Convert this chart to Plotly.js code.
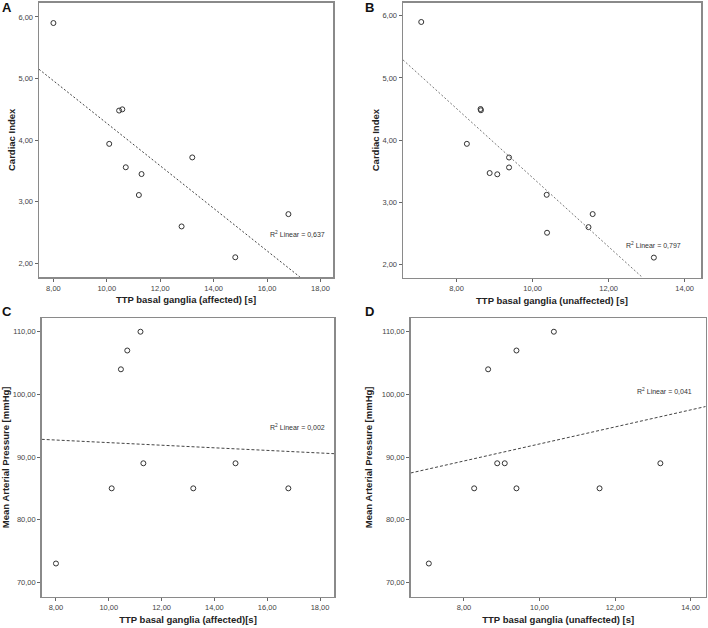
<!DOCTYPE html>
<html>
<head>
<meta charset="utf-8">
<script src="https://cdn.plot.ly/plotly-3.0.1.min.js"></script>
<style>html,body{margin:0;padding:0;background:#fff;}#chart{width:708px;height:628px;}</style>
</head>
<body>
<div id="chart"></div>
<script>
// Panel A: TTP affected vs Cardiac Index
const ttpAffA = [8.0, 10.46, 10.58, 10.09, 10.71, 11.30, 11.20, 13.2, 12.8, 14.81, 16.8];
const ciA     = [5.90, 4.48, 4.50, 3.94, 3.56, 3.45, 3.11, 3.72, 2.60, 2.10, 2.80];
const fitA_x = [7.46, 17.23];
const fitA_y = [5.15, 1.78];
const r2A = "0,637";

// Panel B: TTP unaffected vs Cardiac Index
const ttpUnaffB = [7.07, 8.63, 8.64, 8.27, 8.87, 9.07, 9.38, 9.38, 10.37, 10.38, 11.47, 11.58, 13.19];
const ciB       = [5.90, 4.50, 4.48, 3.94, 3.47, 3.45, 3.72, 3.56, 3.12, 2.51, 2.60, 2.81, 2.11];
const fitB_x = [6.59, 12.89];
const fitB_y = [5.29, 1.79];
const r2B = "0,797";

// Panel C: TTP affected vs MAP
const ttpAffC = [8.0, 10.11, 10.46, 10.70, 11.2, 11.31, 13.2, 14.8, 16.8];
const mapC    = [73, 85, 104, 107, 110, 89, 85, 89, 85];
const fitC_x = [7.46, 18.54];
const fitC_y = [92.82, 90.53];
const r2C = "0,002";

// Panel D: TTP unaffected vs MAP
const ttpUnaffD = [7.07, 8.27, 8.64, 8.88, 9.08, 9.39, 9.39, 10.38, 11.59, 13.2];
const mapD      = [73, 85, 104, 89, 89, 107, 85, 110, 85, 89];
const fitD_x = [6.59, 14.40];
const fitD_y = [87.45, 98.06];
const r2D = "0,041";

const xTicksAff = [8, 10, 12, 14, 16, 18];
const xTicksUnaff = [8, 10, 12, 14];
const yTicksCI = [2, 3, 4, 5, 6];
const yTicksMAP = [70, 80, 90, 100, 110];

const fmt = v => v.toFixed(2).replace('.', ',');

const W = 708, H = 628;
const dx = (a, b) => [a / W, b / W];
const dy = (top, bottom) => [1 - bottom / H, 1 - top / H];

const FONT = 'Liberation Sans, Arial, sans-serif';

function scatter(x, y, xa, ya) {
  return {x, y, xaxis: xa, yaxis: ya, type: 'scatter', mode: 'markers',
    marker: {symbol: 'circle-open', size: 5, color: '#333', line: {width: 1, color: '#333'}},
    showlegend: false, hoverinfo: 'x+y'};
}
function fit(x, y, xa, ya, color, dash) {
  return {x, y, xaxis: xa, yaxis: ya, type: 'scatter', mode: 'lines',
    line: {color, width: 1, dash}, showlegend: false, hoverinfo: 'skip'};
}

const data = [
  scatter(ttpAffA, ciA, 'x', 'y'), fit(fitA_x, fitA_y, 'x', 'y', '#444', '2px,2px'),
  scatter(ttpUnaffB, ciB, 'x2', 'y2'), fit(fitB_x, fitB_y, 'x2', 'y2', '#777', '2px,2px'),
  scatter(ttpAffC, mapC, 'x3', 'y3'), fit(fitC_x, fitC_y, 'x3', 'y3', '#444', '3px,2px'),
  scatter(ttpUnaffD, mapD, 'x4', 'y4'), fit(fitD_x, fitD_y, 'x4', 'y4', '#444', '3px,2px')
];

function axBase(domain, range, ticks, anchor) {
  return {domain, range, anchor, tickvals: ticks, ticktext: ticks.map(fmt),
    showline: true, mirror: true, linecolor: '#8a8a8a', linewidth: 1.5,
    ticks: 'outside', ticklen: 3, tickcolor: '#666', tickwidth: 1,
    showgrid: false, zeroline: false, automargin: false,
    tickfont: {size: 7.5, color: '#444', family: FONT}};
}
function xax(domain, range, ticks, title, anchor) {
  const a = axBase(domain, range, ticks, anchor);
  a.title = {text: title, standoff: 5, font: {size: 9.5, color: '#222', family: FONT, weight: 'bold'}};
  return a;
}
function yax(domain, range, ticks, title, anchor, standoff) {
  const a = axBase(domain, range, ticks, anchor);
  a.title = {text: title, standoff, font: {size: 9.5, color: '#222', family: FONT, weight: 'bold'}};
  return a;
}

const r2Text = v => 'R<sup>2</sup> Linear = ' + v;
const r2Ann = (x, y, xr, yr, v) => ({x, y, xref: xr, yref: yr, text: r2Text(v), showarrow: false,
  xanchor: 'left', yanchor: 'middle', font: {size: 7, color: '#333', family: FONT}});
const lab = (x, y, t) => ({x: x / W, y: 1 - y / H, xref: 'paper', yref: 'paper', text: '<b>' + t + '</b>',
  showarrow: false, xanchor: 'center', yanchor: 'middle', font: {size: 13, color: '#111', family: FONT}});

const layout = {
  width: W, height: H,
  margin: {l: 0, r: 0, t: 0, b: 0},
  paper_bgcolor: '#fff', plot_bgcolor: '#fff',
  showlegend: false,
  xaxis:  xax(dx(39, 333), [7.46, 18.47], xTicksAff, 'TTP basal ganglia (affected) [s]', 'y'),
  yaxis:  yax(dy(2.7, 277), [1.78, 6.23], yTicksCI, 'Cardiac Index', 'x', 1),
  xaxis2: xax(dx(403, 701), [6.59, 14.43], xTicksUnaff, 'TTP basal ganglia (unaffected) [s]', 'y2'),
  yaxis2: yax(dy(2.7, 277.5), [1.79, 6.21], yTicksCI, 'Cardiac Index', 'x2', 1),
  xaxis3: xax(dx(41.7, 334.3), [7.46, 18.54], xTicksAff, 'TTP basal ganglia (affected)[s]', 'y3'),
  yaxis3: yax(dy(318, 596.7), [67.7, 112.19], yTicksMAP, 'Mean Arterial Pressure [mmHg]', 'x3', 7),
  xaxis4: xax(dx(410.7, 705.7), [6.59, 14.40], xTicksUnaff, 'TTP basal ganglia (unaffected) [s]', 'y4'),
  yaxis4: yax(dy(318, 596.7), [67.7, 112.19], yTicksMAP, 'Mean Arterial Pressure [mmHg]', 'x4', 7),
  annotations: [
    r2Ann(16.04, 2.47, 'x', 'y', r2A),
    r2Ann(12.41, 2.32, 'x2', 'y2', r2B),
    r2Ann(16.04, 94.74, 'x3', 'y3', r2C),
    r2Ann(12.54, 100.49, 'x4', 'y4', r2D),
    lab(7, 7, 'A'), lab(369, 7, 'B'), lab(7, 311, 'C'), lab(369, 311.5, 'D')
  ]
};

Plotly.newPlot('chart', data, layout, {staticPlot: true, displayModeBar: false});
</script>
</body>
</html>
